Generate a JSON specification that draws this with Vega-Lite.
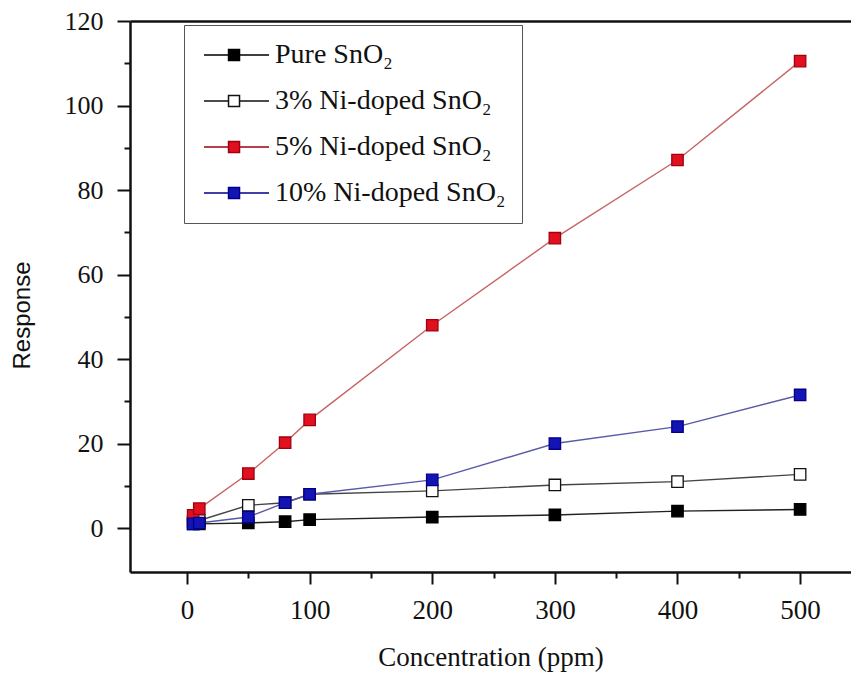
{
  "$schema": "https://vega.github.io/schema/vega-lite/v6.json",
  "width": 721,
  "height": 551,
  "autosize": {"type": "none"},
  "padding": {"left": 130, "top": 21, "right": 0, "bottom": 103},
  "background": "white",
  "config": {
    "view": {"stroke": null},
    "axis": {
      "domainColor": "#111",
      "domainWidth": 2.5,
      "tickColor": "#111",
      "tickWidth": 2,
      "labelFont": "Liberation Serif",
      "labelFontSize": 26,
      "labelColor": "#111",
      "labelOverlap": false,
      "grid": false,
      "titleColor": "#111",
      "titleFontWeight": "normal"
    }
  },
  "data": {
    "values": [
      {"series": "Pure SnO₂", "conc": 5, "response": 1.0},
      {"series": "Pure SnO₂", "conc": 10, "response": 1.0},
      {"series": "Pure SnO₂", "conc": 50, "response": 1.2},
      {"series": "Pure SnO₂", "conc": 80, "response": 1.5},
      {"series": "Pure SnO₂", "conc": 100, "response": 2.0},
      {"series": "Pure SnO₂", "conc": 200, "response": 2.6},
      {"series": "Pure SnO₂", "conc": 300, "response": 3.1},
      {"series": "Pure SnO₂", "conc": 400, "response": 4.0},
      {"series": "Pure SnO₂", "conc": 500, "response": 4.4},
      {"series": "3% Ni-doped SnO₂", "conc": 5, "response": 1.6},
      {"series": "3% Ni-doped SnO₂", "conc": 10, "response": 1.8},
      {"series": "3% Ni-doped SnO₂", "conc": 50, "response": 5.4},
      {"series": "3% Ni-doped SnO₂", "conc": 80, "response": 6.0},
      {"series": "3% Ni-doped SnO₂", "conc": 100, "response": 8.0},
      {"series": "3% Ni-doped SnO₂", "conc": 200, "response": 8.8},
      {"series": "3% Ni-doped SnO₂", "conc": 300, "response": 10.2},
      {"series": "3% Ni-doped SnO₂", "conc": 400, "response": 11.0},
      {"series": "3% Ni-doped SnO₂", "conc": 500, "response": 12.7},
      {"series": "5% Ni-doped SnO₂", "conc": 5, "response": 3.0},
      {"series": "5% Ni-doped SnO₂", "conc": 10, "response": 4.6},
      {"series": "5% Ni-doped SnO₂", "conc": 50, "response": 12.9},
      {"series": "5% Ni-doped SnO₂", "conc": 80, "response": 20.2},
      {"series": "5% Ni-doped SnO₂", "conc": 100, "response": 25.6},
      {"series": "5% Ni-doped SnO₂", "conc": 200, "response": 48.0},
      {"series": "5% Ni-doped SnO₂", "conc": 300, "response": 68.6},
      {"series": "5% Ni-doped SnO₂", "conc": 400, "response": 87.1},
      {"series": "5% Ni-doped SnO₂", "conc": 500, "response": 110.5},
      {"series": "10% Ni-doped SnO₂", "conc": 5, "response": 1.0},
      {"series": "10% Ni-doped SnO₂", "conc": 10, "response": 1.2},
      {"series": "10% Ni-doped SnO₂", "conc": 50, "response": 2.6},
      {"series": "10% Ni-doped SnO₂", "conc": 80, "response": 6.0},
      {"series": "10% Ni-doped SnO₂", "conc": 100, "response": 8.0},
      {"series": "10% Ni-doped SnO₂", "conc": 200, "response": 11.4},
      {"series": "10% Ni-doped SnO₂", "conc": 300, "response": 20.0},
      {"series": "10% Ni-doped SnO₂", "conc": 400, "response": 24.0},
      {"series": "10% Ni-doped SnO₂", "conc": 500, "response": 31.5}
    ]
  },
  "encoding": {
    "y": {
      "field": "response",
      "type": "quantitative",
      "scale": {"domain": [-10.4, 120], "nice": false, "zero": false},
      "axis": {
        "values": [0, 10, 20, 30, 40, 50, 60, 70, 80, 90, 100, 110, 120],
        "labelExpr": "datum.value % 20 === 0 ? datum.label : ''",
        "tickSize": {"condition": {"test": "datum.value % 20 !== 0", "value": 6}, "value": 13},
        "labelPadding": 14,
        "title": "Response",
        "titleFont": "Liberation Sans",
        "titleFontSize": 24,
        "titleAngle": -90,
        "titleX": -108,
        "titleY": 294,
        "titleBaseline": "middle",
        "titleAlign": "center"
      }
    }
  },
  "layer": [
    {
      "mark": {"type": "line", "strokeWidth": 1.4},
      "encoding": {
        "x": {
          "field": "conc",
          "type": "quantitative",
          "scale": {"domain": [-46.5, 541.5], "nice": false, "zero": false},
          "axis": {
            "orient": "bottom",
            "values": [0, 50, 100, 150, 200, 250, 300, 350, 400, 450, 500],
            "labelExpr": "datum.value % 100 === 0 ? datum.label : ''",
            "tickSize": {"condition": {"test": "datum.value % 100 !== 0", "value": 6}, "value": 12},
            "labelFontSize": 27,
            "labelPadding": 13,
            "title": "Concentration (ppm)",
            "titleFont": "Liberation Serif",
            "titleFontSize": 27,
            "titleBaseline": "alphabetic",
            "titleY": 93
          }
        },
        "color": {
          "field": "series",
          "type": "nominal",
          "scale": {"range": ["#5a5aa8", "#444444", "#c86464", "#222222"]},
          "legend": null
        }
      }
    },
    {
      "mark": {"type": "point", "shape": "square", "size": 130, "filled": true, "opacity": 1, "strokeWidth": 1.3},
      "encoding": {
        "x": {
          "field": "conc",
          "type": "quantitative",
          "scale": {"domain": [-46.5, 541.5], "nice": false, "zero": false},
          "axis": {"orient": "top", "labels": false, "ticks": false, "title": null, "domain": true}
        },
        "fill": {
          "field": "series",
          "type": "nominal",
          "scale": {
            "domain": ["Pure SnO₂", "3% Ni-doped SnO₂", "5% Ni-doped SnO₂", "10% Ni-doped SnO₂"],
            "range": ["#000000", "#ffffff", "#e0101e", "#1414b4"]
          },
          "legend": {
            "orient": "none", "legendX": 54, "legendY": 4, "title": null,
            "symbolType": "M-0.91,0L1.32,0M2.32,0L5,0M1.32,-0.5L2.32,-0.5L2.32,0.5L1.32,0.5Z",
            "symbolSize": 484, "symbolStrokeWidth": 1.5,
            "labelFont": "Liberation Serif", "labelFontSize": 28, "labelColor": "#111",
            "labelOffset": 47, "labelLimit": 400, "rowPadding": 18, "padding": 16,
            "strokeColor": "#555", "fillColor": "white"
          }
        },
        "stroke": {
          "field": "series",
          "type": "nominal",
          "scale": {
            "domain": ["Pure SnO₂", "3% Ni-doped SnO₂", "5% Ni-doped SnO₂", "10% Ni-doped SnO₂"],
            "range": ["#000000", "#111111", "#a00010", "#00008b"]
          },
          "legend": {
            "orient": "none", "legendX": 54, "legendY": 4, "title": null,
            "symbolType": "M-0.91,0L1.32,0M2.32,0L5,0M1.32,-0.5L2.32,-0.5L2.32,0.5L1.32,0.5Z",
            "symbolSize": 484, "symbolStrokeWidth": 1.5,
            "labelFont": "Liberation Serif", "labelFontSize": 28, "labelColor": "#111",
            "labelOffset": 47, "labelLimit": 400, "rowPadding": 18, "padding": 16,
            "strokeColor": "#555", "fillColor": "white"
          }
        }
      }
    }
  ],
  "resolve": {"axis": {"x": "independent"}}
}
